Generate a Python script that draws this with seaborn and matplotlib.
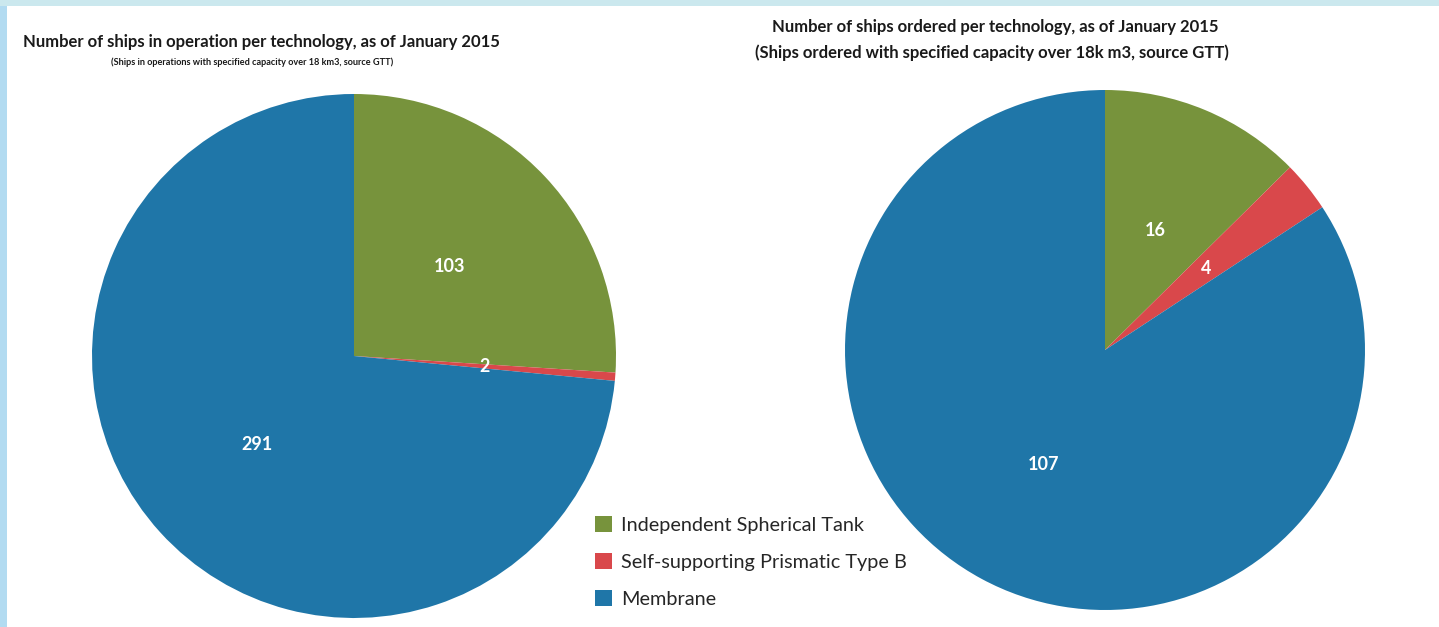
import matplotlib
matplotlib.use("Agg")
import matplotlib.pyplot as plt
import seaborn as sns
from matplotlib.patches import Rectangle

sns.set_theme(style="white")
plt.rcParams["font.family"] = ["Lato", "DejaVu Sans"]

# data
technologies = ["Independent Spherical Tank", "Self-supporting Prismatic Type B", "Membrane"]
in_operation = [103, 2, 291]
ordered = [16, 4, 107]

colors = sns.color_palette(["#77933c", "#d9484b", "#1f76a8"])

W, H = 1439, 627
fig = plt.figure(figsize=(W / 100, H / 100), dpi=100)
fig.patch.set_facecolor("white")

# light blue frame strips (left and top)
fig.add_artist(Rectangle((0, 0), 7 / W, 1, transform=fig.transFigure, color="#b2dbf1", lw=0))
fig.add_artist(Rectangle((0, 1 - 6 / H), 1, 6 / H, transform=fig.transFigure, color="#cbe8ee", lw=0))


def px_axes(x0, y0, size):
    # axes box given in pixel coords from top-left of the picture
    return fig.add_axes([x0 / W, (H - y0 - size) / H, size / W, size / H])


def draw_pie(ax, values):
    wedges, _, autotexts = ax.pie(
        values, colors=colors, startangle=90, counterclock=False,
        radius=1, pctdistance=0.5,
        autopct=lambda p: "{:.0f}".format(p * sum(values) / 100),
        wedgeprops=dict(linewidth=0),
        textprops=dict(color="white", fontsize=13, fontweight="bold"),
    )
    ax.set_xlim(-1, 1)
    ax.set_ylim(-1, 1)
    ax.set_aspect("equal")
    ax.axis("off")
    return wedges


ax1 = px_axes(92, 94, 524)
wedges = draw_pie(ax1, in_operation)

ax2 = px_axes(845, 90, 520)
draw_pie(ax2, ordered)

# titles
title_kw = dict(ha="center", va="center", fontweight="bold", color="#1a1a1a")
fig.text(261 / W, 1 - 42 / H, "Number of ships in operation per technology, as of January 2015",
         fontsize=12, **title_kw)
fig.text(252 / W, 1 - 62 / H, "(Ships in operations with specified capacity over 18 km3, source GTT)",
         fontsize=6.6, **title_kw)
fig.text(995 / W, 1 - 27 / H, "Number of ships ordered per technology, as of January 2015",
         fontsize=12, **title_kw)
fig.text(992 / W, 1 - 53 / H, "(Ships ordered with specified capacity over 18k m3, source GTT)",
         fontsize=12, **title_kw)

fig.legend(wedges, technologies, loc="center left",
           bbox_to_anchor=(595 / W, 1 - 562 / H), frameon=False,
           fontsize=14.3, handlelength=0.85, handleheight=0.85,
           handletextpad=0.45, labelspacing=0.95, borderaxespad=0, borderpad=0)

fig.savefig("out.png", dpi=100, facecolor=fig.get_facecolor())
